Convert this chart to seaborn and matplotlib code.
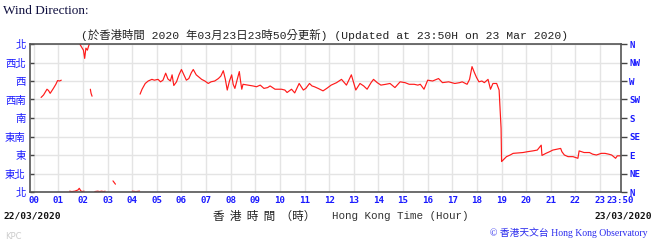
import numpy as np
import pandas as pd
import matplotlib
matplotlib.use("Agg")
import matplotlib.pyplot as plt
import matplotlib.transforms as mtransforms
import seaborn as sns

# ---------------- data (hour of day, wind direction in degrees) ----------------
seg_a_hr = [0.3, 0.4, 0.54, 0.6, 0.67, 0.8, 0.9, 0.97, 1.05, 1.12]
seg_a_deg = [230, 236, 250, 247, 240, 252, 262, 271, 270, 272]

seg_b_hr = [1.87, 1.95, 2.02, 2.07, 2.12, 2.18, 2.24, 2.27]
seg_b_deg = [360, 352, 345, 325, 350, 345, 357, 360]

seg_c_hr = [2.3, 2.33, 2.37]
seg_c_deg = [250, 240, 233]

seg_d_hr = [1.46, 1.55, 1.67, 1.8, 1.85, 1.9, 1.95, 2.05]
seg_d_deg = [2, 1, 2, 5, 9, 4, 1, 2]

seg_e_hr = [2.48, 2.6, 2.68, 2.75, 2.85, 2.9]
seg_e_deg = [1, 2, 1, 2, 1, 2]

seg_f_hr = [3.22, 3.27, 3.32]
seg_f_deg = [27, 23, 19]

seg_g_hr = [4.0, 4.15, 4.3]
seg_g_deg = [2, 1, 2]

seg_h_hr = [0.05, 0.15]
seg_h_deg = [1, 1]

main_hr = [4.32, 4.4, 4.53, 4.65, 4.8, 4.9, 5.05, 5.15, 5.25, 5.36, 5.45, 5.55, 5.62,
           5.69, 5.8, 5.9, 6.0, 6.1, 6.2, 6.3, 6.4, 6.48, 6.6, 6.7, 6.82, 6.95, 7.09,
           7.2, 7.35, 7.5, 7.6, 7.7, 7.78, 7.86, 7.95, 8.04, 8.1, 8.17, 8.25, 8.35,
           8.4, 8.45, 8.5, 8.7, 8.9, 9.05, 9.2, 9.35, 9.5, 9.6, 9.8, 10.06, 10.2,
           10.29, 10.4, 10.47, 10.6, 10.78, 10.95, 11.05, 11.2, 11.3, 11.4, 11.55,
           11.75, 11.9, 12.08, 12.3, 12.5, 12.7, 12.9, 13.08, 13.25, 13.4, 13.54,
           13.7, 13.8, 13.95, 14.1, 14.3, 14.47, 14.67, 14.88, 15.08, 15.25, 15.45,
           15.6, 15.7, 15.85, 16.0, 16.2, 16.44, 16.6, 16.85, 17.1, 17.3, 17.4,
           17.6, 17.7, 17.8, 17.9, 17.98, 18.08, 18.2, 18.3, 18.45, 18.55, 18.65,
           18.8, 18.9, 18.98, 19.0, 19.1, 19.2, 19.35, 19.47, 19.7, 19.87, 20.05,
           20.27, 20.45, 20.61, 20.64, 20.8, 20.95, 21.08, 21.25, 21.4, 21.45,
           21.55, 21.7, 21.9, 22.1, 22.15, 22.35, 22.57, 22.7, 22.85, 23.05, 23.2,
           23.35, 23.47, 23.63, 23.7, 23.83]
main_deg = [238, 250, 264, 270, 274, 272, 274, 268, 272, 289, 275, 270, 285,
            259, 268, 285, 298, 285, 272, 276, 290, 298, 285, 280, 274, 270, 264,
            268, 270, 276, 282, 295, 275, 248, 270, 285, 262, 252, 270, 293,
            270, 250, 262, 260, 258, 256, 260, 252, 254, 258, 250, 250, 248,
            242, 247, 250, 241, 264, 248, 252, 264, 258, 256, 252,
            246, 252, 260, 266, 274, 260, 285, 248, 264, 258, 250,
            266, 274, 266, 260, 262, 264, 254, 268, 266, 262, 262,
            260, 262, 250, 272, 270, 276, 266, 268, 264, 266, 268,
            262, 274, 305, 290, 279, 268, 270, 266, 274, 250, 264,
            264, 248, 155, 74, 80, 86, 90, 94, 95, 96, 98,
            100, 102, 114, 89, 94, 98, 102, 104, 106, 98,
            90, 86, 86, 82, 100, 96, 96, 92, 90, 94, 94,
            92, 90, 82, 88, 88]

segments = [(seg_a_hr, seg_a_deg), (seg_b_hr, seg_b_deg), (seg_c_hr, seg_c_deg),
            (seg_d_hr, seg_d_deg), (seg_e_hr, seg_e_deg), (seg_f_hr, seg_f_deg),
            (seg_g_hr, seg_g_deg), (seg_h_hr, seg_h_deg), (main_hr, main_deg)]

y_ticks_deg = [0, 45, 90, 135, 180, 225, 270, 315, 360]
left_labels = ["北", "東北", "東", "東南", "南", "西南", "西", "西北", "北"]
right_labels = ["N", "NE", "E", "SE", "S", "SW", "W", "NW", "N"]
x_ticks_hr = list(range(24)) + [23.833]
x_labels = ["%02d" % h for h in range(24)] + ["23:50"]

rows = []
for i, (hs, ds) in enumerate(segments):
    for h, d in zip(hs, ds):
        rows.append({"hour": h, "deg": d, "seg": i})
df = pd.DataFrame(rows)

# ---------------- plot ----------------
sns.set_style("white")
plt.rcParams["font.family"] = ["DejaVu Sans", "Noto Sans CJK TC"]

fig = plt.figure(figsize=(6.56, 2.49), dpi=100)
ax = fig.add_axes([30 / 656, 1 - 192 / 249, (621 - 30) / 656, (192 - 44) / 249])

sns.lineplot(data=df, x="hour", y="deg", units="seg", estimator=None,
             color="#ff1a1a", lw=0.85, sort=False, ax=ax)

ax.set_xlim(-0.15, 23.85)
ax.set_ylim(0, 360)
ax.set_xlabel("")
ax.set_ylabel("")

blue = "#1a1aff"
ax.set_xticks(x_ticks_hr)
ax.set_xticklabels(x_labels, fontsize=6.6, color=blue, fontweight="bold",
                   family="DejaVu Sans Mono")
lbl = ax.get_xticklabels()[-1]
lbl.set_transform(lbl.get_transform() + mtransforms.ScaledTranslation(6 / 100, 0, fig.dpi_scale_trans))

ax.set_yticks(y_ticks_deg)
ax.set_yticklabels(left_labels, fontsize=7.5, color=blue,
                   family=["Noto Sans CJK TC", "DejaVu Sans"])
ax.tick_params(axis="x", direction="in", length=3, width=1, color="#444", pad=3)
ax.tick_params(axis="y", direction="in", length=3, width=1, color="#444", pad=3)

ax.grid(True, color="#e4e4e4", lw=1)
ax.set_axisbelow(True)
for sp in ax.spines.values():
    sp.set_color("#555555")
    sp.set_linewidth(1.2)

ax2 = ax.twinx()
ax2.set_ylim(0, 360)
ax2.set_yticks(y_ticks_deg)
ax2.set_yticklabels(right_labels, fontsize=6.6, color=blue, fontweight="bold",
                    family="DejaVu Sans Mono")
ax2.tick_params(axis="y", direction="out", length=4, width=1, color="#444", pad=2)
for sp in ax2.spines.values():
    sp.set_visible(False)

# ---------------- texts ----------------
fig.text(3 / 656, 1 - 11 / 249, "Wind Direction:", fontsize=9.5, color="#101040",
         family="Liberation Serif", va="center", ha="left")
fig.text(325 / 656, 1 - 35 / 249,
         "(於香港時間 2020 年03月23日23時50分更新) (Updated at 23:50H on 23 Mar 2020)",
         fontsize=8.2, color="#222222", family=["Liberation Mono", "Noto Sans CJK TC"],
         va="center", ha="center")
fig.text(3 / 656, 1 - 216 / 249, "22/03/2020", fontsize=6.8, fontweight="bold",
         family="DejaVu Sans Mono", color="#111111", va="center", ha="left")
fig.text(652 / 656, 1 - 216 / 249, "23/03/2020", fontsize=6.8, fontweight="bold",
         family="DejaVu Sans Mono", color="#111111", va="center", ha="right")
fig.text(213 / 656, 1 - 216 / 249, "香  港  時  間  （時）", fontsize=8.4,
         family=["Noto Sans CJK TC", "DejaVu Sans"], color="#222222",
         va="center", ha="left")
fig.text(332 / 656, 1 - 216 / 249, "Hong Kong Time (Hour)", fontsize=7.8,
         family="Liberation Mono", color="#333333", va="center", ha="left")
fig.text(5 / 656, 1 - 236 / 249, "KPC", fontsize=6, color="#cccccc",
         va="center", ha="left")
fig.text(648 / 656, 1 - 233 / 249, "© 香港天文台 Hong Kong Observatory", fontsize=7,
         family=["Liberation Serif", "Noto Sans CJK TC"], color="#2a2aee",
         va="center", ha="right")

fig.savefig("out.png", dpi=100)
